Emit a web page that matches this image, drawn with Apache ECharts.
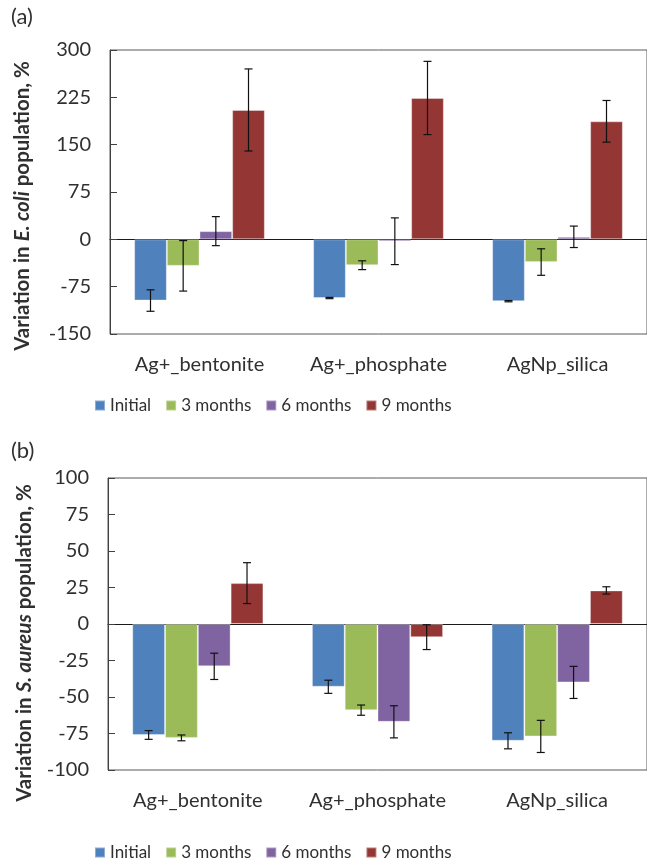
<!DOCTYPE html>
<html>
<head>
<meta charset="utf-8">
<script src="https://cdn.jsdelivr.net/npm/echarts@6/dist/echarts.min.js"></script>
<style>
  html, body { margin: 0; padding: 0; background: #fff; }
  #chart { width: 647px; height: 862px; }
</style>
</head>
<body>
<div id="chart"></div>
<script>
// Categories and series
const categories = ['Ag+_bentonite', 'Ag+_phosphate', 'AgNp_silica'];
const seriesNames = ['Initial', '3 months', '6 months', '9 months'];
const colors = ['#4F81BD', '#9BBB59', '#8064A2', '#943634'];

// (a) E. coli: mean variation (%) and error (±)
const ecoliInitial = [-97, -93, -98];
const ecoli3m = [-42, -41, -36];
const ecoli6m = [13, -3, 4];
const ecoli9m = [205, 224, 187];
const ecoliInitialErr = [17, 1, 1];
const ecoli3mErr = [40, 7, 21];
const ecoli6mErr = [23, 37, 17];
const ecoli9mErr = [65, 58, 33];

// (b) S. aureus: mean variation (%) and error (±)
const saureusInitial = [-76, -43, -80];
const saureus3m = [-78, -59, -77];
const saureus6m = [-29, -67, -40];
const saureus9m = [28, -9, 23];
const saureusInitialErr = [3, 4.5, 5.5];
const saureus3mErr = [2, 3.5, 11];
const saureus6mErr = [9, 11, 11];
const saureus9mErr = [14, 8.5, 2.5];

// Y axis ticks
const ecoliTicks = { min: -150, max: 300, interval: 75 };
const saureusTicks = { min: -100, max: 100, interval: 25 };

const FONT = 'Lato, "Open Sans", sans-serif';
const TEXT = '#303030';
const GAP = 0.27; // barCategoryGap fraction

const panels = [
  { values: [ecoliInitial, ecoli3m, ecoli6m, ecoli9m],
    errors: [ecoliInitialErr, ecoli3mErr, ecoli6mErr, ecoli9mErr],
    ticks: ecoliTicks },
  { values: [saureusInitial, saureus3m, saureus6m, saureus9m],
    errors: [saureusInitialErr, saureus3mErr, saureus6mErr, saureus9mErr],
    ticks: saureusTicks }
];

const grids = [
  { left: 110, top: 50, width: 548, height: 284 },
  { left: 108, top: 478, width: 548, height: 292 }
];

const xAxes = [], yAxes = [], series = [], legends = [];

panels.forEach((p, g) => {
  // zero line with boundary ticks
  xAxes.push({
    gridIndex: g, type: 'category', data: categories, position: 'bottom',
    axisLine: { onZero: true, lineStyle: { color: '#1a1a1a', width: 1 } },
    axisTick: { inside: true, length: 6, lineStyle: { color: '#1a1a1a' } },
    axisLabel: { show: false },
    splitLine: { show: false }
  });
  // category labels along the bottom edge
  xAxes.push({
    gridIndex: g, type: 'category', data: categories, position: 'bottom',
    axisLine: { show: false, onZero: false },
    axisTick: { show: false },
    axisLabel: { fontFamily: FONT, fontSize: 20, color: TEXT, margin: 21 },
    splitLine: { show: false }
  });
  yAxes.push({
    gridIndex: g, type: 'value',
    min: p.ticks.min, max: p.ticks.max, interval: p.ticks.interval,
    axisLine: { show: true, lineStyle: { color: '#404040', width: 1 } },
    axisTick: { show: true, inside: true, length: 7, lineStyle: { color: '#404040' } },
    axisLabel: { fontFamily: FONT, fontSize: 20, color: TEXT, margin: 19 },
    splitLine: { show: false }
  });

  seriesNames.forEach((name, s) => {
    series.push({
      name, type: 'bar', xAxisIndex: g * 2, yAxisIndex: g,
      data: p.values[s],
      barGap: '0%', barCategoryGap: (GAP * 100) + '%',
      itemStyle: { color: colors[s], borderColor: 'rgba(255,255,255,0.35)', borderWidth: 1 },
      emphasis: { disabled: true }
    });
  });

  // error bars
  const errData = [];
  seriesNames.forEach((name, s) => {
    p.values[s].forEach((v, c) => errData.push([c, s, v, p.errors[s][c]]));
  });
  series.push({
    type: 'custom', xAxisIndex: g * 2, yAxisIndex: g, z: 10,
    encode: { x: 0, y: 2 },
    data: errData,
    silent: true,
    renderItem: (params, api) => {
      const c = api.value(0), s = api.value(1), v = api.value(2), e = api.value(3);
      const catW = api.size([1, 0])[0];
      const bw = catW * (1 - GAP) / 4;
      const x = api.coord([c, v])[0] + (s - 1.5) * bw;
      const yTop = api.coord([c, v + e])[1];
      const yBot = api.coord([c, v - e])[1];
      const cap = 4;
      const style = { stroke: '#111', lineWidth: 1.2 };
      return {
        type: 'group',
        children: [
          { type: 'line', shape: { x1: x, y1: yTop, x2: x, y2: yBot }, style },
          { type: 'line', shape: { x1: x - cap, y1: yTop, x2: x + cap, y2: yTop }, style },
          { type: 'line', shape: { x1: x - cap, y1: yBot, x2: x + cap, y2: yBot }, style }
        ]
      };
    }
  });
});

const legendBase = {
  data: seriesNames, left: 94, orient: 'horizontal', padding: 0,
  icon: 'rect', itemWidth: 10, itemHeight: 10, itemGap: 14,
  textStyle: { fontFamily: FONT, fontSize: 17, color: TEXT },
  selectedMode: false
};
legends.push(Object.assign({}, legendBase, { top: 397 }));
legends.push(Object.assign({}, legendBase, { top: 844 }));

const titleRich = {
  n: { fontFamily: FONT, fontSize: 20.5, fontWeight: 'bold', fill: TEXT, color: TEXT },
  i: { fontFamily: FONT, fontSize: 20.5, fontWeight: 'bold', fontStyle: 'italic', fill: TEXT, color: TEXT }
};

const chart = echarts.init(document.getElementById('chart'), null, { renderer: 'canvas' });
chart.setOption({
  animation: false,
  backgroundColor: '#fff',
  grid: grids.map(g => Object.assign({ show: true, borderColor: '#595959', borderWidth: 1, backgroundColor: 'transparent' }, g)),
  xAxis: xAxes,
  yAxis: yAxes,
  legend: legends,
  series,
  graphic: [
    { type: 'text', left: 11, top: 6, style: { text: '(a)', fontFamily: FONT, fontSize: 22, fill: TEXT } },
    { type: 'text', left: 11, top: 440, style: { text: '(b)', fontFamily: FONT, fontSize: 22, fill: TEXT } },
    { type: 'text', x: 22, y: 206, rotation: Math.PI / 2,
      style: { text: '{n|Variation in }{i|E. coli}{n| population, %}', rich: titleRich, align: 'center', verticalAlign: 'middle' } },
    { type: 'text', x: 24, y: 643, rotation: Math.PI / 2,
      style: { text: '{n|Variation in }{i|S. aureus}{n| population, %}', rich: titleRich, align: 'center', verticalAlign: 'middle' } }
  ]
});
</script>
</body>
</html>
